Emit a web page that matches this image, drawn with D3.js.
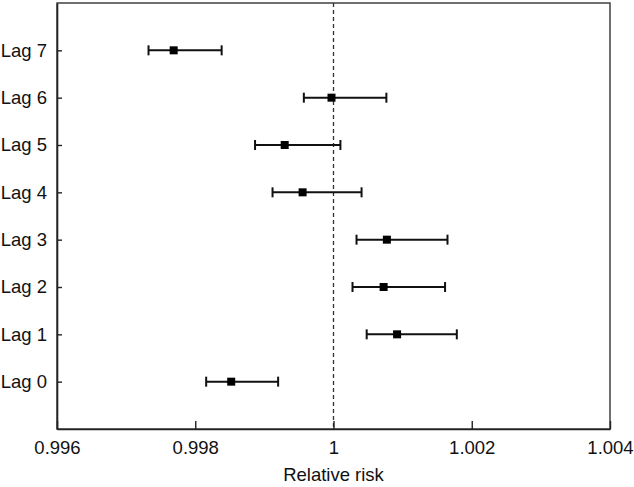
<!DOCTYPE html>
<html><head><meta charset="utf-8">
<script src="https://cdn.jsdelivr.net/npm/d3@7"></script>
<style>body{margin:0;background:#fff}svg{display:block}text{font-family:"Liberation Sans",Arial,sans-serif;fill:#111}</style>
</head><body><svg id="c" width="634" height="487"></svg>
<script>
const lags = ["Lag 0","Lag 1","Lag 2","Lag 3","Lag 4","Lag 5","Lag 6","Lag 7"];
const rr    = [0.99852, 1.00092, 1.000725, 1.000772, 0.999553, 0.999294, 0.999971, 0.997688];
const lower = [0.998158, 1.00048, 1.000275, 1.000333, 0.999118, 0.998865, 0.999571, 0.997324];
const upper = [0.999199, 1.001784, 1.001614, 1.001649, 1.000406, 1.0001, 1.000765, 0.998382];
const xTicks = [0.996, 0.998, 1, 1.002, 1.004];
const xTitle = "Relative risk";

const svg = d3.select("#c");
const L = 57, R = 610, T = 3, B = 429;
const x = d3.scaleLinear().domain([0.996, 1.004]).range([L, R]);
const y = d3.scalePoint().domain(lags).range([B, T]).padding(1);
const fmt = d => d === 1 ? "1" : String(d);

// box
svg.append("rect").attr("x", L).attr("y", T).attr("width", R - L).attr("height", B - T)
  .attr("fill", "none").attr("stroke", "#333").attr("stroke-width", 1.4);

// reference line
svg.append("line").attr("x1", x(1)).attr("x2", x(1)).attr("y1", T).attr("y2", B)
  .attr("stroke", "#333").attr("stroke-width", 1.3).attr("stroke-dasharray", "4,3");

// x axis
const xa = svg.append("g").attr("transform", `translate(0,${B})`)
  .call(d3.axisBottom(x).tickValues(xTicks).tickFormat(fmt).tickSizeInner(-8).tickSizeOuter(0).tickPadding(12));
xa.select(".domain").attr("stroke", "#222").attr("stroke-width", 1.6);
xa.selectAll(".tick line").attr("stroke", "#222").attr("stroke-width", 1.4);
xa.selectAll(".tick text").attr("font-size", 18.5).attr("fill", "#111").attr("font-family", "Liberation Sans, Arial, sans-serif");

// y axis
const ya = svg.append("g").attr("transform", `translate(${L},0)`)
  .call(d3.axisLeft(y).tickSizeInner(-5).tickSizeOuter(0).tickPadding(10));
ya.select(".domain").attr("stroke", "#222").attr("stroke-width", 1.6);
ya.selectAll(".tick line").attr("stroke", "#222").attr("stroke-width", 1.4);
ya.selectAll(".tick text").attr("font-size", 18.5).attr("fill", "#111").attr("font-family", "Liberation Sans, Arial, sans-serif");

svg.append("text").attr("x", x(1)).attr("y", 481).attr("text-anchor", "middle")
  .attr("font-size", 18.5).text(xTitle);

// error bars
const g = svg.append("g");
lags.forEach((lag, i) => {
  const yy = y(lag);
  g.append("line").attr("x1", x(lower[i])).attr("x2", x(upper[i])).attr("y1", yy).attr("y2", yy)
    .attr("stroke", "#111").attr("stroke-width", 2);
  [lower[i], upper[i]].forEach(v => {
    g.append("line").attr("x1", x(v)).attr("x2", x(v)).attr("y1", yy - 5).attr("y2", yy + 5)
      .attr("stroke", "#111").attr("stroke-width", 2);
  });
  g.append("rect").attr("x", x(rr[i]) - 4).attr("y", yy - 4).attr("width", 8).attr("height", 8)
    .attr("fill", "#000");
});
</script></body></html>
